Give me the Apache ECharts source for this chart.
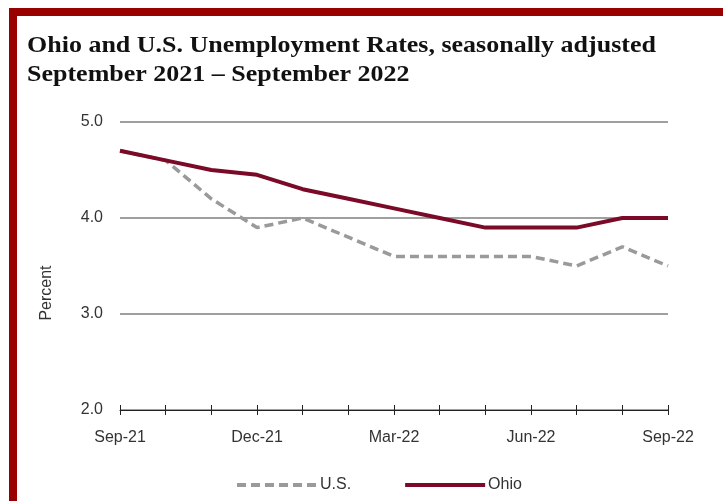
<!DOCTYPE html>
<html>
<head>
<meta charset="utf-8">
<script src="https://cdn.jsdelivr.net/npm/echarts@6/dist/echarts.min.js"></script>
<style>html,body{margin:0;padding:0;background:#fff}#c{width:723px;height:501px}</style>
</head>
<body>
<div id="c"></div>
<script>
const months = ['Sep-21','Oct-21','Nov-21','Dec-21','Jan-22','Feb-22','Mar-22','Apr-22','May-22','Jun-22','Jul-22','Aug-22','Sep-22'];
const usRates = [4.7, 4.6, 4.2, 3.9, 4.0, 3.8, 3.6, 3.6, 3.6, 3.6, 3.5, 3.7, 3.5];
const ohioRates = [4.7, 4.6, 4.5, 4.45, 4.3, 4.2, 4.1, 4.0, 3.9, 3.9, 3.9, 4.0, 4.0];
const yTicks = [2, 3, 4, 5];
const titleLine1 = 'Ohio and U.S. Unemployment Rates, seasonally adjusted';
const titleLine2 = 'September 2021 \u2013 September 2022';

const chart = echarts.init(document.getElementById('c'), null, {renderer: 'canvas'});
const sans = '"Liberation Sans", Arial, sans-serif';
const serifFont = 'bold 23px "Liberation Serif", "Times New Roman", serif';
chart.setOption({
  animation: false,
  backgroundColor: '#fff',
  graphic: [
    {type: 'rect', shape: {x: 9, y: 8, width: 714, height: 8}, style: {fill: '#990000'}},
    {type: 'rect', shape: {x: 9, y: 8, width: 8, height: 493}, style: {fill: '#990000'}},
    {type: 'text', x: 27, y: 46, scaleX: 1.13,
     style: {text: titleLine1, font: serifFont, fill: '#111', verticalAlign: 'middle'}},
    {type: 'text', x: 27, y: 75, scaleX: 1.13,
     style: {text: titleLine2, font: serifFont, fill: '#111', verticalAlign: 'middle'}},
    {type: 'text', x: 47, y: 293, rotation: Math.PI / 2,
     style: {text: 'Percent', font: '16px "Liberation Sans", Arial, sans-serif', fill: '#333', align: 'center', verticalAlign: 'middle'}}
  ],
  legend: {
    left: 230, top: 472, itemWidth: 80, itemHeight: 12, itemGap: 52,
    itemStyle: {opacity: 0},
    lineStyle: {width: 4},
    textStyle: {fontFamily: sans, fontSize: 16, color: '#333', padding: [0, 0, 0, -2]},
    data: ['U.S.', 'Ohio']
  },
  grid: {left: 120, right: 55, top: 122, bottom: 91},
  xAxis: [{
    type: 'category', data: months, boundaryGap: false,
    axisLine: {lineStyle: {color: '#222', width: 1}},
    axisTick: {show: true, interval: 0, length: 5, lineStyle: {color: '#222'}},
    axisLabel: {interval: 2, margin: 20, fontFamily: sans, fontSize: 16, color: '#333'},
    splitLine: {show: false}
  }, {
    type: 'category', data: months, boundaryGap: false, position: 'bottom', offset: 0,
    axisLine: {show: false},
    axisTick: {show: true, inside: true, interval: 0, length: 5, lineStyle: {color: '#222'}},
    axisLabel: {show: false}
  }],
  yAxis: {
    type: 'value', min: yTicks[0], max: yTicks[yTicks.length - 1], interval: 1,
    axisLine: {show: false}, axisTick: {show: false},
    axisLabel: {margin: 17, fontFamily: sans, fontSize: 16, color: '#333', formatter: v => v.toFixed(1)},
    splitLine: {lineStyle: {color: '#7f7f7f', width: 1.5}}
  },
  series: [
    {name: 'U.S.', type: 'line', data: usRates, symbol: 'none', z: 3,
     itemStyle: {color: '#9a9a9a'},
     lineStyle: {color: '#9a9a9a', width: 3.5, type: [9, 5]}},
    {name: 'Ohio', type: 'line', data: ohioRates, symbol: 'none', z: 4,
     itemStyle: {color: '#7a0a28'},
     lineStyle: {color: '#7a0a28', width: 4}}
  ]
});
</script>
</body>
</html>
